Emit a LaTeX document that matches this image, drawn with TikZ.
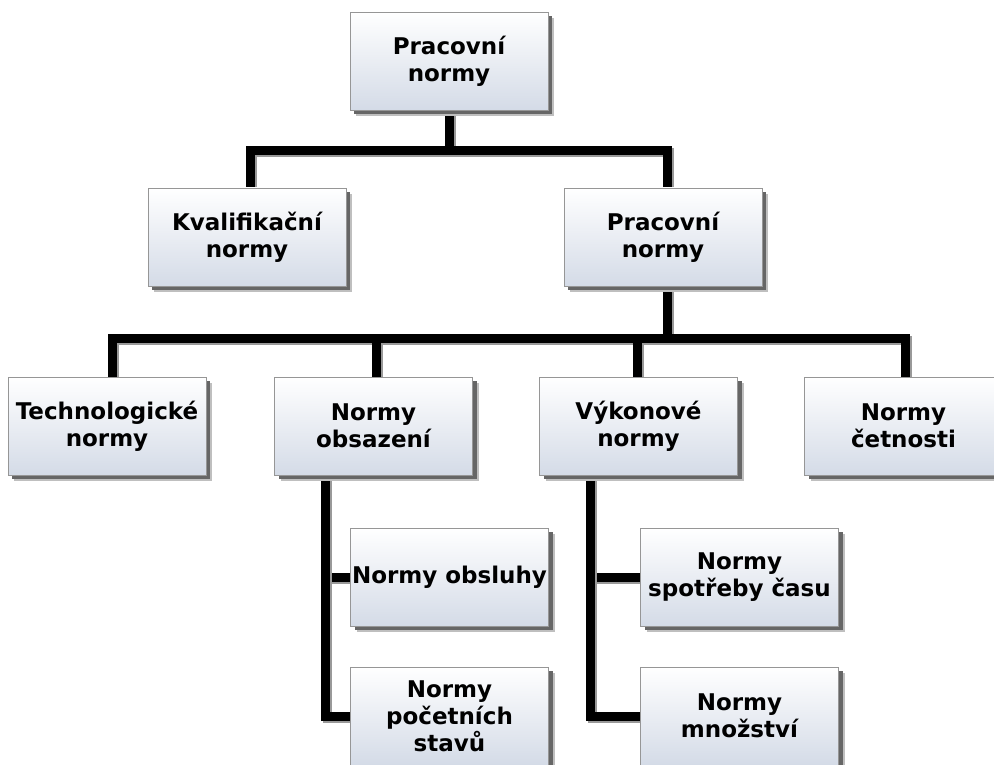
\documentclass[tikz,border=0pt]{standalone}
\usepackage{fontspec}
\setmainfont{DejaVu Sans}
\usetikzlibrary{shadows,backgrounds}

\definecolor{boxbottom}{RGB}{212,219,231}
\definecolor{boxedge}{RGB}{150,150,150}

\tikzset{
  normbox/.style={
    rectangle, minimum width=198pt, minimum height=98pt, inner sep=0pt,
    align=center, draw=boxedge, line width=0.8pt,
    top color=white, bottom color=boxbottom,
    font=\fontsize{23}{27}\selectfont\bfseries,
    drop shadow={shadow xshift=6pt, shadow yshift=-6pt, fill=black!25, opacity=1},
    drop shadow={shadow xshift=4pt, shadow yshift=-4pt, fill=black!60, opacity=1}
  },
  wire/.style={
    line width=9pt, draw=black, line join=miter, line cap=rect,
    preaction={draw=black!40, line width=9pt,
      transform canvas={shift={(2pt,-2pt)}}}
  }
}

\begin{document}
\begin{tikzpicture}[x=1pt,y=-1pt]
  \clip (0,0) rectangle (994,765);

  % hierarchy of norms
  \node[normbox] (root) at (449,61)    {Pracovní\\normy};
  \node[normbox] (kval) at (247,237)   {Kvalifikační\\normy};
  \node[normbox] (prac) at (663,237)   {Pracovní\\normy};

  \node[normbox] (tech) at (107,426)   {Technologické\\normy};
  \node[normbox] (obs)  at (373.5,426) {Normy\\obsazení};
  \node[normbox] (vyk)  at (638.5,426) {Výkonové\\normy};
  \node[normbox] (cet)  at (903.5,426) {Normy\\četnosti};

  \node[normbox] (obsl) at (449.5,577) {Normy obsluhy};
  \node[normbox] (poc)  at (449.5,716) {Normy\\početních\\stavů};
  \node[normbox] (spot) at (739.5,577) {Normy\\spotřeby času};
  \node[normbox] (mnoz) at (739.5,716) {Normy\\množství};

  % trunk points of the side branches
  \coordinate (obsTrunk) at (325,475);
  \coordinate (vykTrunk) at (590,475);

  \begin{scope}[on background layer]
    \fill[white] (0,0) rectangle (994,765);
    % first level
    \draw[wire] (root.south) -- ++(0,40) -| ([xshift=3pt]kval.north);
    \draw[wire] (root.south) -- ++(0,40) -| ([xshift=4pt]prac.north);
    % second level bus
    \draw[wire] ([xshift=4pt]prac.south) -- ++(0,52) -| ([xshift=5pt]tech.north);
    \draw[wire] ([xshift=4pt]prac.south) -- ++(0,52) -| ([xshift=2.5pt]obs.north);
    \draw[wire] ([xshift=4pt]prac.south) -- ++(0,52) -| ([xshift=-1.5pt]vyk.north);
    \draw[wire] ([xshift=4pt]prac.south) -- ++(0,52) -| ([xshift=1.5pt]cet.north);
    % side branches
    \draw[wire] (obsTrunk) |- (obsl.west);
    \draw[wire] (obsTrunk) |- (poc.west);
    \draw[wire] (vykTrunk) |- (spot.west);
    \draw[wire] (vykTrunk) |- (mnoz.west);
  \end{scope}
\end{tikzpicture}
\end{document}
